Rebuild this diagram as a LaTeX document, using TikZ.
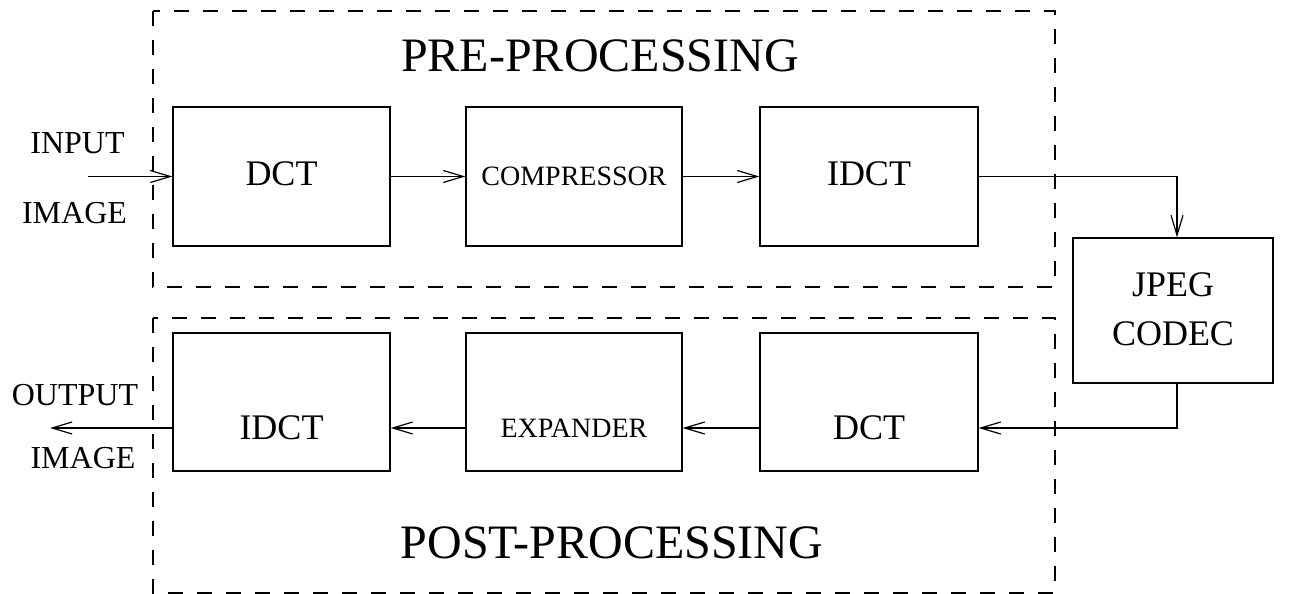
\documentclass[tikz,border=0pt]{standalone}
\usepackage{fontspec}
\setmainfont{Liberation Serif}
\usetikzlibrary{arrows.meta}

\tikzset{
  block/.style={draw, line width=1.3pt, rectangle, inner sep=0pt},
  stage/.style={draw, line width=2pt, dash pattern=on 15pt off 14pt},
  flow/.style={line width=1.2pt, -{Straight Barb[length=20pt,width=12pt,line width=1.2pt]}},
  big/.style={font=\fontsize{36}{49}\selectfont},
  small/.style={font=\fontsize{28}{34}\selectfont},
  side/.style={font=\fontsize{32}{38}\selectfont},
  head/.style={font=\fontsize{48}{54}\selectfont},
}

\begin{document}
\begin{tikzpicture}[x=1pt, y=-1pt]
\useasboundingbox (0,0) rectangle (1296,594);

% processing stages
\draw[stage] (153,11) rectangle (1055,287);
\draw[stage] (153,318) rectangle (1055,593);
\node[head, anchor=base] (pre) at (600,72) {PRE-PROCESSING};
\node[head, anchor=base] (post) at (612,558) {POST-PROCESSING};

% upper row
\node[block, minimum width=217pt, minimum height=139pt,
      label={[big, yshift=3pt]center:DCT}] (dcta) at (281.5,176.5) {};
\node[block, minimum width=216pt, minimum height=139pt,
      label={[small]center:COMPRESSOR}] (comp) at (574,176.5) {};
\node[block, minimum width=218pt, minimum height=139pt,
      label={[big, yshift=3pt]center:IDCT}] (idcta) at (869,176.5) {};

% codec
\node[block, minimum width=200pt, minimum height=145pt,
      label={[big, align=center, yshift=1pt]center:JPEG\\CODEC}] (jpeg) at (1173,310.5) {};

% lower row
\node[block, minimum width=217pt, minimum height=138pt,
      label={[big, yshift=-26pt]center:IDCT}] (idctb) at (281.5,402) {};
\node[block, minimum width=216pt, minimum height=138pt,
      label={[small, yshift=-26pt]center:EXPANDER}] (expd) at (574,402) {};
\node[block, minimum width=218pt, minimum height=138pt,
      label={[big, yshift=-26pt]center:DCT}] (dctb) at (869,402) {};

% side labels
\node[side, anchor=base] (inp) at (77.5,153) {INPUT};
\node[side, anchor=base] (inimg) at (74.5,223) {IMAGE};
\node[side, anchor=base] (outp) at (75,405) {OUTPUT};
\node[side, anchor=base] (outimg) at (83,468) {IMAGE};

\coordinate (src) at (88,176.5);
\coordinate (dst) at (50,428);

% connectors
\draw[flow] (src) -- (dcta);
\draw[flow] (dcta) -- (comp);
\draw[flow] (comp) -- (idcta);
\draw[flow] (idcta.east) -| ([xshift=4pt]jpeg.north);
\draw[flow] ([xshift=4pt]jpeg.south) |- ([yshift=-26pt]dctb.east);
\draw[flow] ([yshift=-26pt]dctb.west) -- ([yshift=-26pt]expd.east);
\draw[flow] ([yshift=-26pt]expd.west) -- ([yshift=-26pt]idctb.east);
\draw[flow] ([yshift=-26pt]idctb.west) -- (dst);
\end{tikzpicture}
\end{document}
